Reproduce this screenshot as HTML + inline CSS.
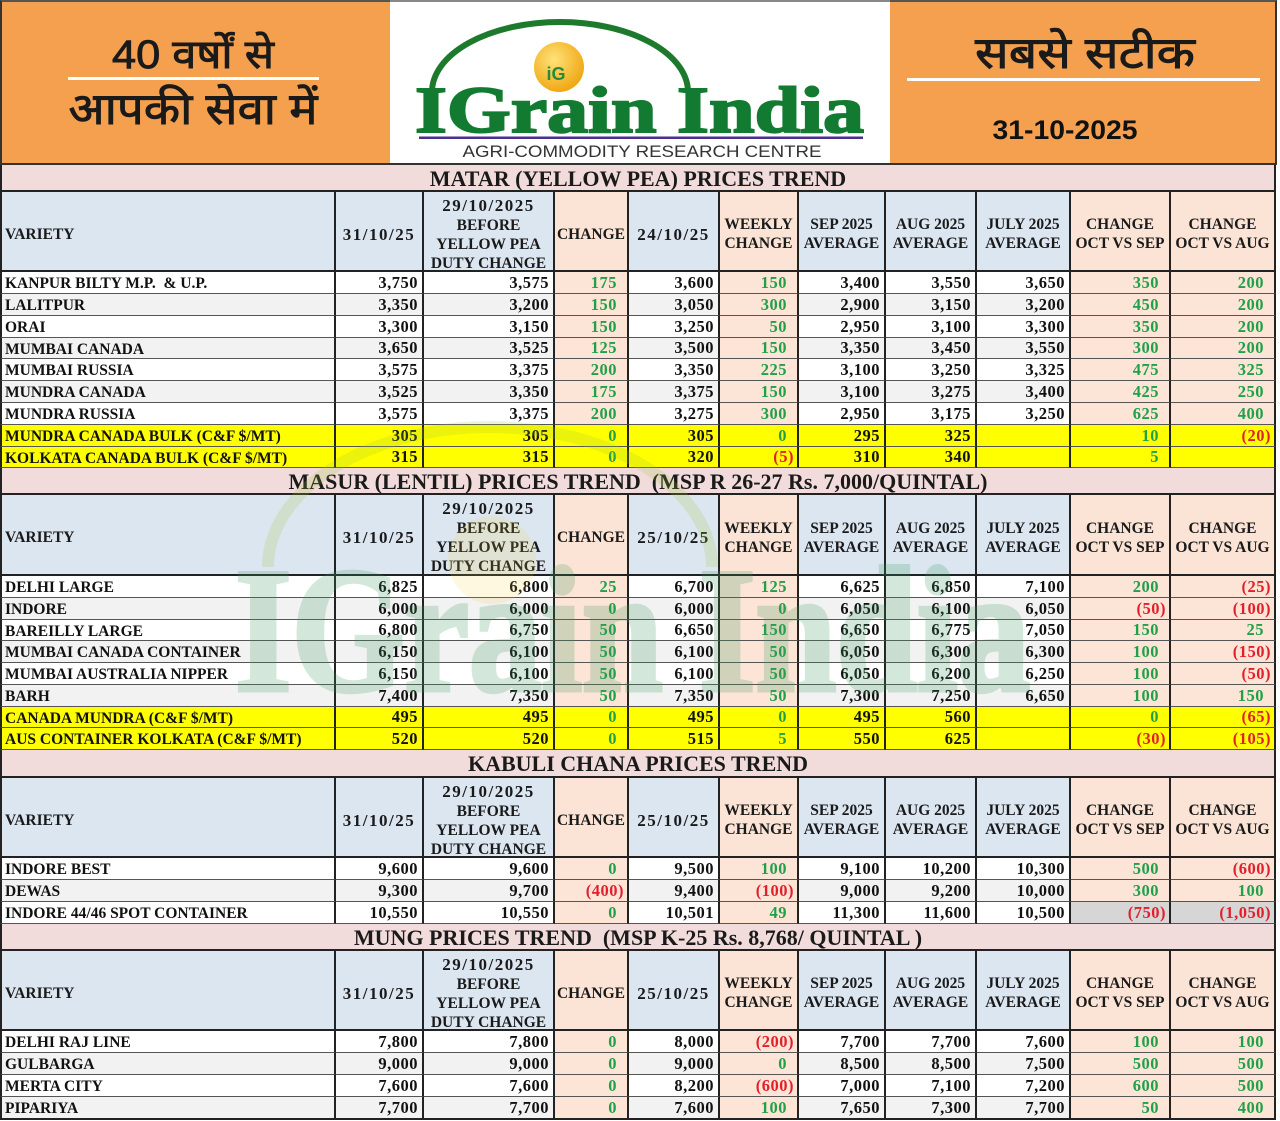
<!DOCTYPE html>
<html>
<head>
<meta charset="utf-8">
<style>
html,body{margin:0;padding:0;}
body{width:1280px;height:1121px;position:relative;overflow:hidden;background:#fff;}
.hdr{position:absolute;top:0;height:165px;box-sizing:border-box;}
.r{position:absolute;left:0;display:flex;height:22px;}
.c{box-sizing:border-box;height:100%;border-right:2px solid #222;border-bottom:1.5px solid #555;display:flex;align-items:center;justify-content:flex-end;padding-right:4px;font-family:"Liberation Serif",serif;font-weight:bold;font-size:16.5px;letter-spacing:.5px;color:#111;white-space:nowrap;overflow:hidden;background:#fff;}
.c:nth-child(1){width:336px;border-left:2px solid #222;justify-content:flex-start;padding-left:3px;padding-top:3px;font-size:15.5px;letter-spacing:0;}
.c:nth-child(2){width:88px}
.c:nth-child(3){width:131px}
.c:nth-child(4){width:74px}
.c:nth-child(5){width:91px}
.c:nth-child(6){width:79px}
.c:nth-child(7){width:87px}
.c:nth-child(8){width:91px}
.c:nth-child(9){width:94px}
.c:nth-child(10){width:100px}
.c:nth-child(11){width:105px}
.gr .c{background:#f2f2f2}
.r .c:nth-child(4),.r .c:nth-child(6),.r .c:nth-child(10),.r .c:nth-child(11){background:#fce4d6;padding-right:10px}
.r .c.n{padding-right:3px}
.y .c,.r.y .c:nth-child(4),.r.y .c:nth-child(6),.r.y .c:nth-child(10),.r.y .c:nth-child(11){background:#ffff00}
.g{color:#21a04a}
.n{color:#e2202c}
.r .c.gy{background:#d6d6d6}
.h{height:80px}
.h .c{justify-content:center;text-align:center;padding:6px 1px 0 1px;font-size:15.5px;letter-spacing:0;line-height:19px;background:#dce6f1;border-bottom:2px solid #222;color:#1a1a1a}
.h .c:nth-child(1){justify-content:flex-start;padding-left:3px;padding-top:6px}
.r.h .c:nth-child(4),.r.h .c:nth-child(6),.r.h .c:nth-child(10),.r.h .c:nth-child(11){background:#fbe4d5;padding:6px 1px 0 1px}
.h .c.d,.h .d{font-size:17px;letter-spacing:1.5px}
.t{position:absolute;left:0;width:1276px;box-sizing:border-box;border-left:2px solid #222;border-right:2px solid #222;border-bottom:2px solid #222;background:#f2dcdb;display:flex;align-items:center;justify-content:center;padding-top:2px;font-family:"Liberation Serif",serif;font-weight:bold;font-size:22px;color:#1a1a1a;white-space:pre;}
.wm{position:absolute;left:0;top:0;width:1280px;height:1121px;pointer-events:none;z-index:5}
</style>
</head>
<body>

<!-- HEADER -->
<div class="hdr" style="left:0;width:390px;background:#f5a04f;border-left:2px solid #333;border-top:2px solid #555;border-bottom:2px solid #333;"></div>
<div class="hdr" style="left:390px;width:500px;background:#fff;border-top:2px solid #888;border-bottom:2px solid #333;"></div>
<div class="hdr" style="left:890px;width:387px;background:#f5a04f;border-top:2px solid #555;border-right:2px solid #333;border-bottom:2px solid #333;"></div>

<svg style="position:absolute;left:0;top:0" width="1280" height="165" xmlns="http://www.w3.org/2000/svg">
  <text x="193" y="68" text-anchor="middle" font-family="'Liberation Sans','Noto Sans Devanagari','Lohit Devanagari','FreeSans',sans-serif" font-size="40" fill="#1a1a1a" stroke="#1a1a1a" stroke-width="0.9" textLength="162" lengthAdjust="spacingAndGlyphs">40 वर्षों से</text>
  <rect x="68" y="77" width="251" height="3" fill="#fff"/>
  <text x="193" y="124" text-anchor="middle" font-family="'Liberation Sans','Noto Sans Devanagari','Lohit Devanagari','FreeSans',sans-serif" font-size="44" fill="#1a1a1a" stroke="#1a1a1a" stroke-width="0.9" textLength="249" lengthAdjust="spacingAndGlyphs">आपकी सेवा में</text>

  <text x="1085" y="68" text-anchor="middle" font-family="'Liberation Sans','Noto Sans Devanagari','Lohit Devanagari','FreeSans',sans-serif" font-size="44" fill="#1a1a1a" stroke="#1a1a1a" stroke-width="0.9" textLength="220" lengthAdjust="spacingAndGlyphs">सबसे सटीक</text>
  <rect x="907" y="78" width="353" height="3" fill="#fff"/>
  <text x="1065" y="139" text-anchor="middle" font-family="'Liberation Sans',sans-serif" font-weight="bold" font-size="27" fill="#111" textLength="145" lengthAdjust="spacingAndGlyphs">31-10-2025</text>

  <!-- logo -->
  <path d="M432,92 A128,70 0 0 1 688,92" fill="none" stroke="#1d7a2c" stroke-width="6"/>
  <defs>
    <radialGradient id="gb" cx="40%" cy="35%" r="65%">
      <stop offset="0" stop-color="#ffe27a"/>
      <stop offset="1" stop-color="#f0a814"/>
    </radialGradient>
  </defs>
  <circle cx="559" cy="67" r="25" fill="url(#gb)"/>
  <text x="556" y="80" text-anchor="middle" font-family="'Liberation Sans',sans-serif" font-weight="bold" font-size="18" fill="#2b8a3a">iG</text>
  <text x="415" y="132" font-family="'Liberation Serif',serif" font-weight="bold" font-size="66" fill="#137b31" stroke="#137b31" stroke-width="2" textLength="449" lengthAdjust="spacingAndGlyphs">IGrain India</text>
  <rect x="419" y="136.5" width="444" height="2.5" fill="#4a2f8f"/>
  <text x="642" y="157" text-anchor="middle" font-family="'Liberation Sans',sans-serif" font-size="17" fill="#333" textLength="359" lengthAdjust="spacingAndGlyphs">AGRI-COMMODITY RESEARCH CENTRE</text>
</svg>

<!-- MATAR -->
<div class="t" style="top:165px;height:27px;">MATAR (YELLOW PEA) PRICES TREND</div>
<div class="r h" style="top:192px;height:80px;">
  <div class="c">VARIETY</div><div class="c d">31/10/25</div><div class="c"><span><span class="d">29/10/2025</span><br>BEFORE<br>YELLOW PEA<br>DUTY CHANGE</span></div><div class="c">CHANGE</div><div class="c d">24/10/25</div><div class="c">WEEKLY<br>CHANGE</div><div class="c">SEP 2025<br>AVERAGE</div><div class="c">AUG 2025<br>AVERAGE</div><div class="c">JULY 2025<br>AVERAGE</div><div class="c">CHANGE<br>OCT VS SEP</div><div class="c">CHANGE<br>OCT VS AUG</div>
</div>
<div class="r" style="top:272px;height:22px;"><div class="c">KANPUR BILTY M.P.&nbsp; &amp; U.P.</div><div class="c">3,750</div><div class="c">3,575</div><div class="c g">175</div><div class="c">3,600</div><div class="c g">150</div><div class="c">3,400</div><div class="c">3,550</div><div class="c">3,650</div><div class="c g">350</div><div class="c g">200</div></div>
<div class="r gr" style="top:294px;height:22px;"><div class="c">LALITPUR</div><div class="c">3,350</div><div class="c">3,200</div><div class="c g">150</div><div class="c">3,050</div><div class="c g">300</div><div class="c">2,900</div><div class="c">3,150</div><div class="c">3,200</div><div class="c g">450</div><div class="c g">200</div></div>
<div class="r" style="top:316px;height:22px;"><div class="c">ORAI</div><div class="c">3,300</div><div class="c">3,150</div><div class="c g">150</div><div class="c">3,250</div><div class="c g">50</div><div class="c">2,950</div><div class="c">3,100</div><div class="c">3,300</div><div class="c g">350</div><div class="c g">200</div></div>
<div class="r gr" style="top:338px;height:21px;"><div class="c">MUMBAI CANADA</div><div class="c">3,650</div><div class="c">3,525</div><div class="c g">125</div><div class="c">3,500</div><div class="c g">150</div><div class="c">3,350</div><div class="c">3,450</div><div class="c">3,550</div><div class="c g">300</div><div class="c g">200</div></div>
<div class="r" style="top:359px;height:22px;"><div class="c">MUMBAI RUSSIA</div><div class="c">3,575</div><div class="c">3,375</div><div class="c g">200</div><div class="c">3,350</div><div class="c g">225</div><div class="c">3,100</div><div class="c">3,250</div><div class="c">3,325</div><div class="c g">475</div><div class="c g">325</div></div>
<div class="r gr" style="top:381px;height:22px;"><div class="c">MUNDRA CANADA</div><div class="c">3,525</div><div class="c">3,350</div><div class="c g">175</div><div class="c">3,375</div><div class="c g">150</div><div class="c">3,100</div><div class="c">3,275</div><div class="c">3,400</div><div class="c g">425</div><div class="c g">250</div></div>
<div class="r" style="top:403px;height:22px;"><div class="c">MUNDRA RUSSIA</div><div class="c">3,575</div><div class="c">3,375</div><div class="c g">200</div><div class="c">3,275</div><div class="c g">300</div><div class="c">2,950</div><div class="c">3,175</div><div class="c">3,250</div><div class="c g">625</div><div class="c g">400</div></div>
<div class="r y" style="top:425px;height:22px;"><div class="c">MUNDRA CANADA BULK (C&amp;F $/MT)</div><div class="c">305</div><div class="c">305</div><div class="c g">0</div><div class="c">305</div><div class="c g">0</div><div class="c">295</div><div class="c">325</div><div class="c"></div><div class="c g">10</div><div class="c n">(20)</div></div>
<div class="r y" style="top:447px;height:21px;"><div class="c">KOLKATA CANADA BULK (C&amp;F $/MT)</div><div class="c">315</div><div class="c">315</div><div class="c g">0</div><div class="c">320</div><div class="c n">(5)</div><div class="c">310</div><div class="c">340</div><div class="c"></div><div class="c g">5</div><div class="c"></div></div>

<!-- MASUR -->
<div class="t" style="top:468px;height:27px;">MASUR (LENTIL) PRICES TREND  (MSP R 26-27 Rs. 7,000/QUINTAL)</div>
<div class="r h" style="top:495px;height:81px;">
  <div class="c">VARIETY</div><div class="c d">31/10/25</div><div class="c"><span><span class="d">29/10/2025</span><br>BEFORE<br>YELLOW PEA<br>DUTY CHANGE</span></div><div class="c">CHANGE</div><div class="c d">25/10/25</div><div class="c">WEEKLY<br>CHANGE</div><div class="c">SEP 2025<br>AVERAGE</div><div class="c">AUG 2025<br>AVERAGE</div><div class="c">JULY 2025<br>AVERAGE</div><div class="c">CHANGE<br>OCT VS SEP</div><div class="c">CHANGE<br>OCT VS AUG</div>
</div>
<div class="r" style="top:576px;height:22px;"><div class="c">DELHI LARGE</div><div class="c">6,825</div><div class="c">6,800</div><div class="c g">25</div><div class="c">6,700</div><div class="c g">125</div><div class="c">6,625</div><div class="c">6,850</div><div class="c">7,100</div><div class="c g">200</div><div class="c n">(25)</div></div>
<div class="r gr" style="top:598px;height:22px;"><div class="c">INDORE</div><div class="c">6,000</div><div class="c">6,000</div><div class="c g">0</div><div class="c">6,000</div><div class="c g">0</div><div class="c">6,050</div><div class="c">6,100</div><div class="c">6,050</div><div class="c n">(50)</div><div class="c n">(100)</div></div>
<div class="r" style="top:620px;height:21px;"><div class="c">BAREILLY LARGE</div><div class="c">6,800</div><div class="c">6,750</div><div class="c g">50</div><div class="c">6,650</div><div class="c g">150</div><div class="c">6,650</div><div class="c">6,775</div><div class="c">7,050</div><div class="c g">150</div><div class="c g">25</div></div>
<div class="r gr" style="top:641px;height:22px;"><div class="c">MUMBAI CANADA CONTAINER</div><div class="c">6,150</div><div class="c">6,100</div><div class="c g">50</div><div class="c">6,100</div><div class="c g">50</div><div class="c">6,050</div><div class="c">6,300</div><div class="c">6,300</div><div class="c g">100</div><div class="c n">(150)</div></div>
<div class="r" style="top:663px;height:22px;"><div class="c">MUMBAI AUSTRALIA NIPPER</div><div class="c">6,150</div><div class="c">6,100</div><div class="c g">50</div><div class="c">6,100</div><div class="c g">50</div><div class="c">6,050</div><div class="c">6,200</div><div class="c">6,250</div><div class="c g">100</div><div class="c n">(50)</div></div>
<div class="r gr" style="top:685px;height:22px;"><div class="c">BARH</div><div class="c">7,400</div><div class="c">7,350</div><div class="c g">50</div><div class="c">7,350</div><div class="c g">50</div><div class="c">7,300</div><div class="c">7,250</div><div class="c">6,650</div><div class="c g">100</div><div class="c g">150</div></div>
<div class="r y" style="top:707px;height:21px;"><div class="c">CANADA MUNDRA (C&amp;F $/MT)</div><div class="c">495</div><div class="c">495</div><div class="c g">0</div><div class="c">495</div><div class="c g">0</div><div class="c">495</div><div class="c">560</div><div class="c"></div><div class="c g">0</div><div class="c n">(65)</div></div>
<div class="r y" style="top:728px;height:22px;"><div class="c">AUS CONTAINER KOLKATA (C&amp;F $/MT)</div><div class="c">520</div><div class="c">520</div><div class="c g">0</div><div class="c">515</div><div class="c g">5</div><div class="c">550</div><div class="c">625</div><div class="c"></div><div class="c n">(30)</div><div class="c n">(105)</div></div>

<!-- KABULI -->
<div class="t" style="top:750px;height:28px;">KABULI CHANA PRICES TREND</div>
<div class="r h" style="top:778px;height:80px;">
  <div class="c">VARIETY</div><div class="c d">31/10/25</div><div class="c"><span><span class="d">29/10/2025</span><br>BEFORE<br>YELLOW PEA<br>DUTY CHANGE</span></div><div class="c">CHANGE</div><div class="c d">25/10/25</div><div class="c">WEEKLY<br>CHANGE</div><div class="c">SEP 2025<br>AVERAGE</div><div class="c">AUG 2025<br>AVERAGE</div><div class="c">JULY 2025<br>AVERAGE</div><div class="c">CHANGE<br>OCT VS SEP</div><div class="c">CHANGE<br>OCT VS AUG</div>
</div>
<div class="r" style="top:858px;height:22px;"><div class="c">INDORE BEST</div><div class="c">9,600</div><div class="c">9,600</div><div class="c g">0</div><div class="c">9,500</div><div class="c g">100</div><div class="c">9,100</div><div class="c">10,200</div><div class="c">10,300</div><div class="c g">500</div><div class="c n">(600)</div></div>
<div class="r gr" style="top:880px;height:22px;"><div class="c">DEWAS</div><div class="c">9,300</div><div class="c">9,700</div><div class="c n">(400)</div><div class="c">9,400</div><div class="c n">(100)</div><div class="c">9,000</div><div class="c">9,200</div><div class="c">10,000</div><div class="c g">300</div><div class="c g">100</div></div>
<div class="r" style="top:902px;height:22px;"><div class="c">INDORE 44/46 SPOT CONTAINER</div><div class="c">10,550</div><div class="c">10,550</div><div class="c g">0</div><div class="c">10,501</div><div class="c g">49</div><div class="c">11,300</div><div class="c">11,600</div><div class="c">10,500</div><div class="c n gy">(750)</div><div class="c n gy">(1,050)</div></div>

<!-- MUNG -->
<div class="t" style="top:924px;height:27px;">MUNG PRICES TREND  (MSP K-25 Rs. 8,768/ QUINTAL )</div>
<div class="r h" style="top:951px;height:80px;">
  <div class="c">VARIETY</div><div class="c d">31/10/25</div><div class="c"><span><span class="d">29/10/2025</span><br>BEFORE<br>YELLOW PEA<br>DUTY CHANGE</span></div><div class="c">CHANGE</div><div class="c d">25/10/25</div><div class="c">WEEKLY<br>CHANGE</div><div class="c">SEP 2025<br>AVERAGE</div><div class="c">AUG 2025<br>AVERAGE</div><div class="c">JULY 2025<br>AVERAGE</div><div class="c">CHANGE<br>OCT VS SEP</div><div class="c">CHANGE<br>OCT VS AUG</div>
</div>
<div class="r" style="top:1031px;height:22px;"><div class="c">DELHI RAJ LINE</div><div class="c">7,800</div><div class="c">7,800</div><div class="c g">0</div><div class="c">8,000</div><div class="c n">(200)</div><div class="c">7,700</div><div class="c">7,700</div><div class="c">7,600</div><div class="c g">100</div><div class="c g">100</div></div>
<div class="r gr" style="top:1053px;height:22px;"><div class="c">GULBARGA</div><div class="c">9,000</div><div class="c">9,000</div><div class="c g">0</div><div class="c">9,000</div><div class="c g">0</div><div class="c">8,500</div><div class="c">8,500</div><div class="c">7,500</div><div class="c g">500</div><div class="c g">500</div></div>
<div class="r" style="top:1075px;height:22px;"><div class="c">MERTA CITY</div><div class="c">7,600</div><div class="c">7,600</div><div class="c g">0</div><div class="c">8,200</div><div class="c n">(600)</div><div class="c">7,000</div><div class="c">7,100</div><div class="c">7,200</div><div class="c g">600</div><div class="c g">500</div></div>
<div class="r gr" style="top:1097px;height:23px;"><div class="c" style="border-bottom:2px solid #222">PIPARIYA</div><div class="c" style="border-bottom:2px solid #222">7,700</div><div class="c" style="border-bottom:2px solid #222">7,700</div><div class="c g" style="border-bottom:2px solid #222">0</div><div class="c" style="border-bottom:2px solid #222">7,600</div><div class="c g" style="border-bottom:2px solid #222">100</div><div class="c" style="border-bottom:2px solid #222">7,650</div><div class="c" style="border-bottom:2px solid #222">7,300</div><div class="c" style="border-bottom:2px solid #222">7,700</div><div class="c g" style="border-bottom:2px solid #222">50</div><div class="c g" style="border-bottom:2px solid #222">400</div></div>

<!-- WATERMARK -->
<svg class="wm" width="1280" height="1121" xmlns="http://www.w3.org/2000/svg">
  <path d="M268,567 A222,140 0 0 1 712,567" fill="none" stroke="#9cc23a" stroke-width="12" opacity="0.2"/>
  <circle cx="492" cy="560" r="44" fill="#f5d020" opacity="0.14"/>
  <text x="235" y="690" font-family="'Liberation Serif',serif" font-weight="bold" font-size="178" fill="#3a9a5c" stroke="#3a9a5c" stroke-width="5" opacity="0.22" textLength="795" lengthAdjust="spacingAndGlyphs">IGrain India</text>
</svg>

</body>
</html>
